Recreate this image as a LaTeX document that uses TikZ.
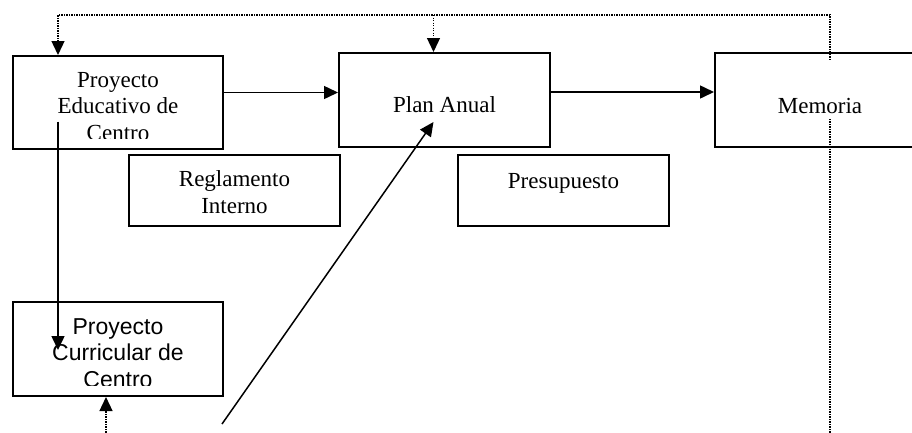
\documentclass[tikz,border=0pt]{standalone}
\usepackage{fontspec}
\setmainfont{Liberation Serif}
\setsansfont{Liberation Sans}
\usetikzlibrary{positioning, arrows.meta, calc, backgrounds}

\begin{document}
\begin{tikzpicture}[
    x=1pt, y=-1pt,
    caja/.style={rectangle, draw=black, line width=2pt, minimum width=210pt, minimum height=93pt, inner sep=0pt},
    cajita/.style={caja, minimum width=211pt, minimum height=71pt},
    texto/.style={font=\fontsize{23}{26.5}\selectfont, align=center, inner sep=0pt, anchor=base},
    textosf/.style={texto, font=\sffamily\fontsize{23}{26.5}\selectfont},
    punta/.style={-{Triangle[length=14pt, width=13pt]}},
    arr/.style={punta, line width=1.5pt, draw=black},
    punteado/.style={punta, line width=1.3pt, dash pattern=on 1.2pt off 1.3pt}
]
    \clip (0,0) rectangle (912,432);

    \node[caja] (pec) at (118,102.5) {};
    \node[caja, minimum width=211pt, minimum height=94pt] (plan) at (444.5,100) {};
    \node[caja, minimum height=94pt] (memoria) [right=163pt of plan] {};
    \node[cajita] (reglamento) at (234.5,190.5) {};
    \node[cajita] (presupuesto) [right=116pt of reglamento] {};
    \node[caja, minimum height=94pt] (pcc) at (118,349) {};

    % textos de las cajas (recortados como en el original)
    \begin{scope}
        \clip (pec.north west) rectangle ($(pec.south east)+(0,-12)$);
        \node[texto] (pectxt) at ($(pec.north)+(0,85)$) {Proyecto\\Educativo de\\Centro};
    \end{scope}
    \begin{scope}
        \clip (pcc.north west) rectangle ($(pcc.south east)+(0,-12)$);
        \node[textosf] (pcctxt) at ($(pcc.north)+(0,86)$) {Proyecto\\Curricular de\\Centro};
    \end{scope}
    \node[texto] (plantxt) at ($(plan.north)+(0,60)$) {Plan Anual};
    \node[texto, fill=white, text height=53pt, text depth=5pt, minimum width=190pt] (memtxt) at ($(memoria.north)+(0,61)$) {Memoria};
    \node[texto] (regtxt) at ($(reglamento.north)+(0,59)$) {Reglamento\\Interno};
    \node[texto] (prestxt) at ($(presupuesto.north)+(0,34)$) {Presupuesto};

    % conexiones
    \coordinate (esquina) at (830,15);
    \coordinate (retorno) at (830,445);
    \coordinate (abajo) at (106,445);
    \coordinate (diag) at (222,424);
    \coordinate (pecin) at ($(pec.north west)+(46,0)$);
    \coordinate (planin) at ($(plan.north)+(-11,0)$);

    \begin{scope}[on background layer]
        \draw[punteado] (retorno) -- (esquina) -| (pecin);
        \draw[punteado] (planin |- esquina) -- (planin);
    \end{scope}
    \draw[punteado] (abajo) -- ($(pcc.south)+(-12,0)$);

    \draw[arr] ($(pec.east)+(0,-10)$) coordinate (s1) -- (s1 -| plan.west);
    \draw[arr] ($(plan.east)+(0,-8)$) coordinate (s2) -- (s2 -| memoria.west);
    \draw[arr] ($(pec.west)+(46,19)$) -- ($(pcc.west)+(46,1)$);
    \draw[arr] (diag) -- ($(plan.center)+(-11,22)$);
\end{tikzpicture}
\end{document}
